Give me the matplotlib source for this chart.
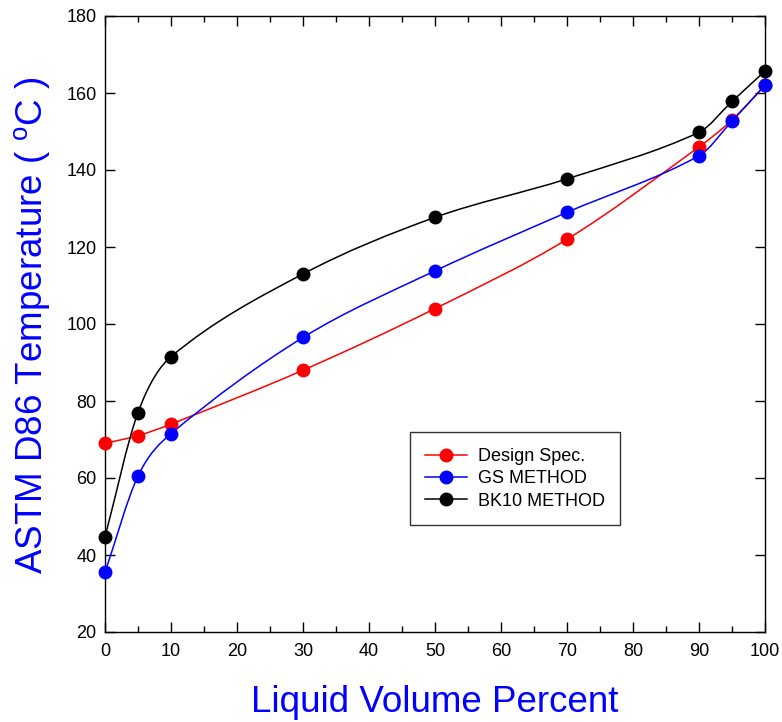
import numpy as np
import matplotlib
matplotlib.use("Agg")
import matplotlib.pyplot as plt
from matplotlib.path import Path
from matplotlib.patches import PathPatch
from matplotlib.lines import Line2D
from matplotlib.ticker import MultipleLocator

plt.rcParams['font.family'] = ['Liberation Sans', 'DejaVu Sans']
plt.rcParams['mathtext.fontset'] = 'custom'
plt.rcParams['mathtext.rm'] = 'Liberation Sans'

volume = [0, 5, 10, 30, 50, 70, 90, 95, 100]
design_spec = [69, 71, 74, 88, 104, 122, 146, 153, 162]
gs_method = [35.5, 60.5, 71.5, 96.5, 113.8, 129, 143.7, 152.7, 162]
bk10_method = [44.7, 77, 91.5, 113, 127.7, 137.7, 149.8, 157.8, 165.7]

series = [
    ("Design Spec.", design_spec, "#ff0000"),
    ("GS METHOD", gs_method, "#0000ff"),
    ("BK10 METHOD", bk10_method, "#000000"),
]


def smooth_path(x, y):
    x = np.asarray(x, float)
    y = np.asarray(y, float)
    n = len(x)
    m = np.zeros(n)
    for i in range(n):
        if i == 0:
            m[i] = (y[1] - y[0]) / (x[1] - x[0])
        elif i == n - 1:
            m[i] = (y[-1] - y[-2]) / (x[-1] - x[-2])
        else:
            m[i] = (y[i + 1] - y[i - 1]) / (x[i + 1] - x[i - 1])
    verts = [(x[0], y[0])]
    codes = [Path.MOVETO]
    for i in range(n - 1):
        h = x[i + 1] - x[i]
        verts += [(x[i] + h / 3, y[i] + m[i] * h / 3),
                  (x[i + 1] - h / 3, y[i + 1] - m[i + 1] * h / 3),
                  (x[i + 1], y[i + 1])]
        codes += [Path.CURVE4] * 3
    return Path(verts, codes)


W, H = 782, 722
fig = plt.figure(figsize=(W / 100, H / 100), dpi=100)
ax = fig.add_axes([105 / W, 1 - 632 / H, 660 / W, 616 / H])

handles = []
for label, vals, color in series:
    ax.add_patch(PathPatch(smooth_path(volume, vals), facecolor='none',
                           edgecolor=color, lw=1.1, zorder=2))
    ax.plot(volume, vals, linestyle='none', marker='o', markersize=9,
            color=color, zorder=3, clip_on=False)
    handles.append(Line2D([], [], color=color, lw=1.1, marker='o',
                          markersize=9, label=label))

ax.set_xlim(0, 100)
ax.set_ylim(20, 180)
ax.xaxis.set_major_locator(MultipleLocator(10))
ax.xaxis.set_minor_locator(MultipleLocator(5))
ax.yaxis.set_major_locator(MultipleLocator(20))
ax.tick_params(which='both', direction='in', top=True, right=True,
               labelsize=13, width=1, colors='black')
ax.tick_params(which='major', length=7)
ax.tick_params(which='minor', length=4)
ax.tick_params(axis='x', which='major', pad=8)
ax.tick_params(axis='y', which='major', pad=6)
for s in ax.spines.values():
    s.set_linewidth(1.0)

fig.text(435 / W, 1 - 712 / H, "Liquid Volume Percent", fontsize=26.5,
         color='#0000ff', ha='center', va='baseline')
fig.text(43 / W, 1 - 325 / H, "ASTM D86 Temperature ( $^{\\mathrm{o}}$C )",
         fontsize=26.5, color='#0000ff', ha='center', va='baseline',
         rotation=90, rotation_mode='anchor')

leg = ax.legend(handles=handles, loc='lower left',
                bbox_to_anchor=(0.462, 0.1737), fontsize=13, frameon=True,
                fancybox=False, edgecolor='black', handlelength=2.3,
                borderpad=0.85, labelspacing=0.3, handletextpad=0.6,
                borderaxespad=0)
leg.get_frame().set_linewidth(1.0)

fig.savefig("out.png", dpi=100)
